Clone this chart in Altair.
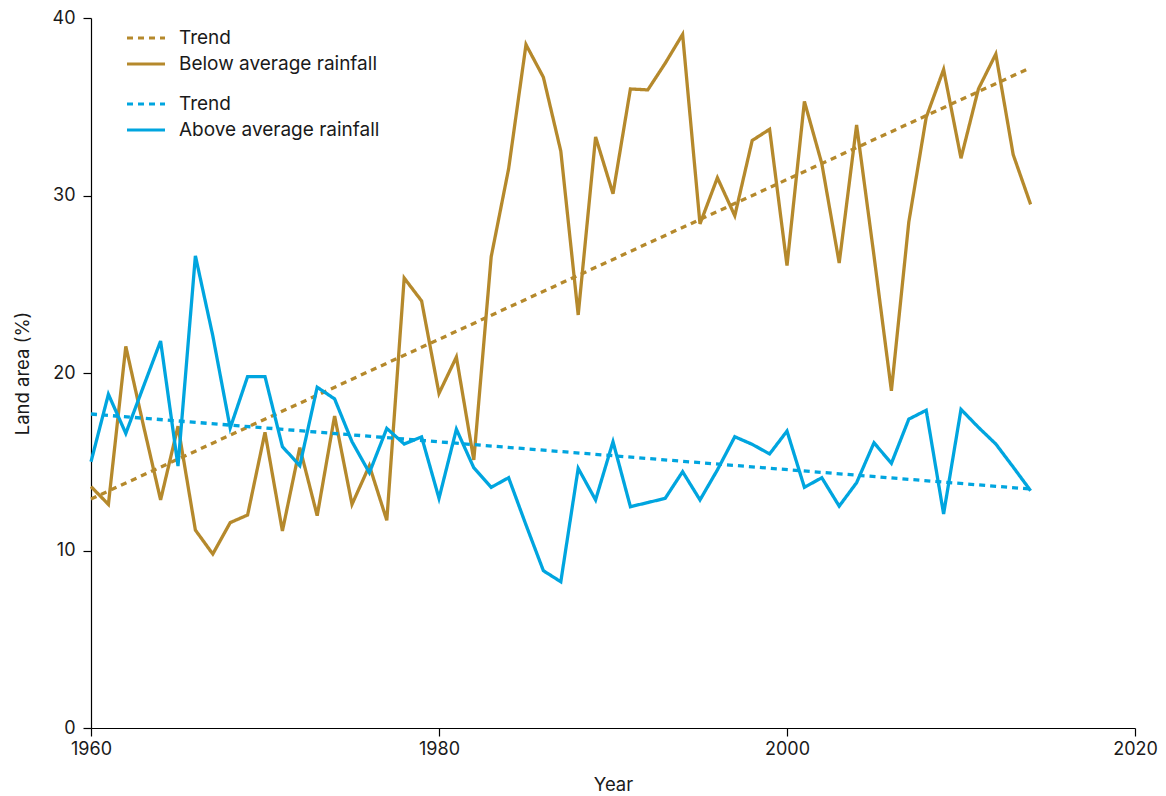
import altair as alt
import pandas as pd

years = list(range(1960, 2015))

below = [13.6, 12.6, 21.5, 17.1, 12.85, 17.0, 11.15, 9.8, 11.57, 12.0,
         16.66, 11.1, 15.8, 11.96, 17.58, 12.6, 14.78, 11.7, 25.35, 24.06,
         18.85, 20.9, 15.1, 26.55, 31.5, 38.5, 36.66, 32.5, 23.27, 33.3,
         30.1, 36.0, 35.95, 37.45, 39.08, 28.4, 31.0, 28.86, 33.1, 33.73,
         26.05, 35.3, 31.8, 26.2, 33.97, 26.6, 19.0, 28.5, 34.4, 37.1,
         32.1, 36.0, 37.97, 32.3, 29.5]

above = [15.0, 18.8, 16.6, 19.2, 21.8, 14.76, 26.6, 22.1, 16.9, 19.8,
         19.8, 15.85, 14.78, 19.2, 18.54, 16.13, 14.38, 16.88, 16.0, 16.4,
         12.94, 16.83, 14.66, 13.56, 14.1, 11.44, 8.86, 8.24, 14.63, 12.85,
         16.13, 12.47, 12.7, 12.94, 14.44, 12.85, 14.54, 16.41, 15.98, 15.44,
         16.73, 13.56, 14.1, 12.5, 13.82, 16.07, 14.91, 17.4, 17.9, 12.06,
         17.95, 16.94, 16.0, 14.7, 13.37]

trend_years = [1960, 2014]
below_trend = [12.9, 37.2]
above_trend = [17.69, 13.46]

GOLD = "#B5892C"
BLUE = "#00A5DF"
FONT = "Inter"

df_below = pd.concat([
    pd.DataFrame({"year": trend_years, "value": below_trend, "series": "Trend"}),
    pd.DataFrame({"year": years, "value": below, "series": "Below average rainfall"}),
])
df_above = pd.concat([
    pd.DataFrame({"year": trend_years, "value": above_trend, "series": "Trend"}),
    pd.DataFrame({"year": years, "value": above, "series": "Above average rainfall"}),
])

x_enc = alt.X("year:Q", scale=alt.Scale(domain=[1960, 2020], nice=False, zero=False),
              axis=alt.Axis(values=[1960, 1980, 2000, 2020], format="d", title="Year"))
y_enc = alt.Y("value:Q", scale=alt.Scale(domain=[0, 40], nice=False),
              axis=alt.Axis(values=[0, 10, 20, 30, 40], title="Land area (%)"))


def layer(df, name, color, legend_y):
    dom = ["Trend", name]
    leg = alt.Legend(orient="none", legendX=44, legendY=legend_y, title=None,
                     symbolType="M-2,0H2", symbolSize=361, symbolStrokeWidth=3,
                     labelFontSize=19, labelFont=FONT, labelColor="#1a1a1a",
                     labelOffset=22, rowPadding=5, padding=0, labelLimit=400)
    return alt.Chart(df).mark_line(strokeWidth=3.3).encode(
        x=x_enc,
        y=y_enc,
        color=alt.Color("series:N", scale=alt.Scale(domain=dom, range=[color, color]),
                        legend=leg, sort=dom),
        strokeDash=alt.StrokeDash("series:N",
                                  scale=alt.Scale(domain=dom, range=[[6, 5], [1, 0]]),
                                  legend=leg, sort=dom),
        detail="series:N",
    )


chart = alt.layer(
    layer(df_below, "Below average rainfall", GOLD, 9),
    layer(df_above, "Above average rainfall", BLUE, 75),
).resolve_scale(
    color="independent", strokeDash="independent"
).resolve_legend(
    color="independent", strokeDash="independent"
).properties(
    width=1044, height=710,
    autosize=alt.AutoSizeParams(type="none"),
    padding={"left": 91, "top": 18, "right": 31, "bottom": 68},
).configure_view(
    stroke=None
).configure_axis(
    grid=False, domainColor="#000000", tickColor="#000000", domainWidth=1.2,
    tickWidth=1.2, tickSize=8, labelFont=FONT, titleFont=FONT, labelFontSize=18,
    titleFontSize=18.5, labelColor="#1a1a1a", titleColor="#1a1a1a",
    titleFontWeight="normal",
).configure_axisY(
    labelPadding=8, titlePadding=20,
).configure_axisX(
    labelPadding=4, titlePadding=17, labelFlush=False,
)

chart.save("out.html", embed_options={"renderer": "svg", "actions": False})
